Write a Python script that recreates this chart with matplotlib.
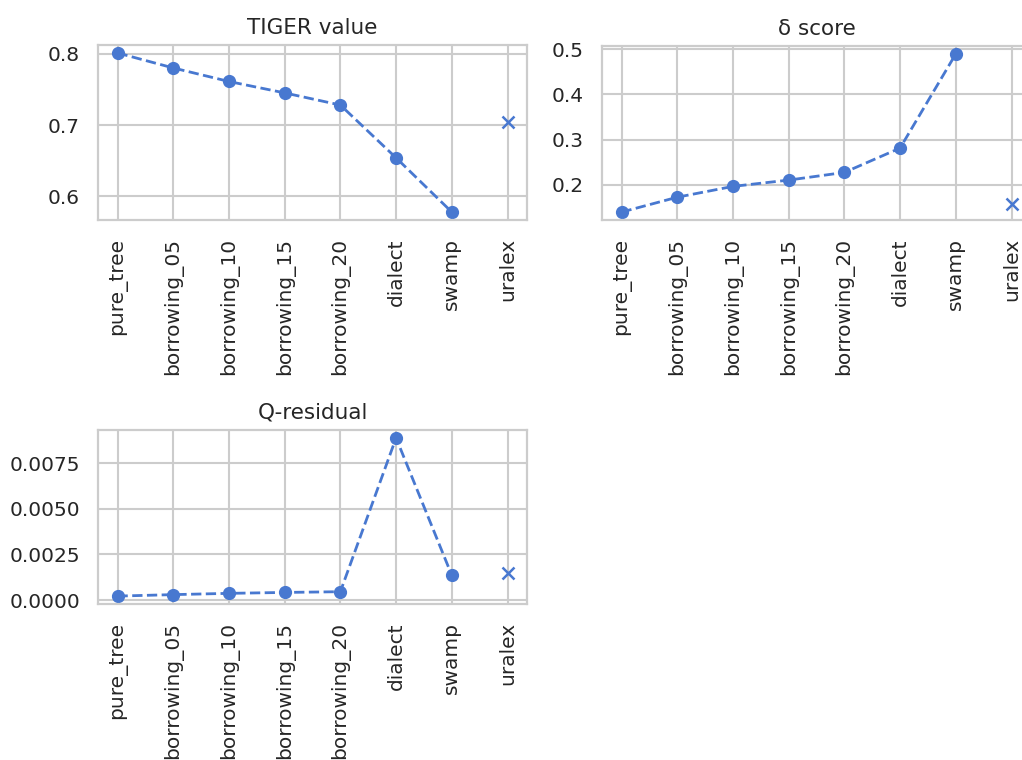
import matplotlib
matplotlib.use("Agg")
import matplotlib.pyplot as plt
import seaborn as sns

sns.set_theme(style="whitegrid", context="notebook")
plt.rcParams['font.family'] = ['DejaVu Sans']

# simulated datasets, then the real one
sim_names = ['pure_tree', 'borrowing_05', 'borrowing_10', 'borrowing_15',
             'borrowing_20', 'dialect', 'swamp']
real_name = 'uralex'

tiger_sim = [0.801, 0.780, 0.761, 0.745, 0.728, 0.654, 0.578]
tiger_real = 0.704

delta_sim = [0.139, 0.172, 0.196, 0.210, 0.227, 0.281, 0.490]
delta_real = 0.157

qres_sim = [0.00022, 0.00030, 0.00037, 0.00042, 0.00046, 0.00888, 0.00136]
qres_real = 0.00148

color = sns.color_palette("muted")[0]

fig = plt.figure(figsize=(10.22, 7.6), dpi=100)
W, H = 1022, 760


def px_axes(left, top, right, bottom):
    return fig.add_axes([left / W, 1 - bottom / H, (right - left) / W, (bottom - top) / H])


ax1 = px_axes(98, 45, 527, 220)
ax2 = px_axes(602, 46, 1031, 220)
ax3 = px_axes(98, 430, 527, 604)

panels = [
    (ax1, tiger_sim, tiger_real, 'TIGER value'),
    (ax2, delta_sim, delta_real, 'δ score'),
    (ax3, qres_sim, qres_real, 'Q-residual'),
]

for ax, sim, real, title in panels:
    ax.plot(sim_names, sim, 'o--', color=color, markersize=8.5, linewidth=2.0)
    ax.plot([real_name], [real], 'x', color=color, markersize=8, markeredgewidth=1.8)
    ax.set_title(title, fontsize=15.5, pad=8)
    ax.tick_params(axis='x', rotation=90, labelsize=14.5, pad=7)
    ax.tick_params(axis='y', labelsize=14.5, pad=7)
    for s in ax.spines.values():
        s.set_color('.8')
        s.set_linewidth(1.6)
    ax.grid(color='.8', linewidth=1.5)

ax1.set_yticks([0.6, 0.7, 0.8])
ax2.set_yticks([0.2, 0.3, 0.4, 0.5])
ax3.set_yticks([0.0, 0.0025, 0.005, 0.0075])

fig.savefig('out.png', dpi=100)
